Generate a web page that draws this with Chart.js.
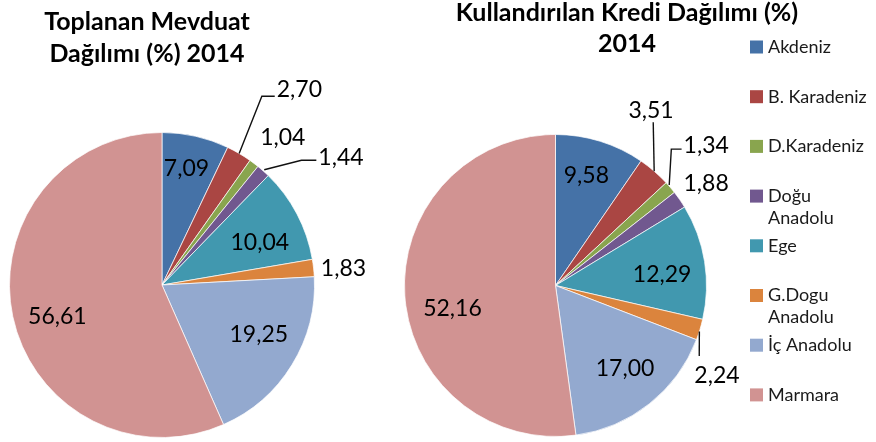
<!DOCTYPE html>
<html>
<head>
<meta charset="utf-8">
<script src="https://cdn.jsdelivr.net/npm/chart.js@4/dist/chart.umd.min.js"></script>
<style>
  html, body { margin: 0; padding: 0; background: #fff; }
  #wrap { position: relative; width: 876px; height: 442px; overflow: hidden; }
  #mevduat { position: absolute; left: 0; top: 0; }
  #kredi { position: absolute; left: 400px; top: 0; }
</style>
</head>
<body>
<div id="wrap">
  <canvas id="mevduat" width="400" height="442"></canvas>
  <canvas id="kredi" width="476" height="442"></canvas>
</div>
<script>
// Regions (legend entries; arrays are wrapped onto two lines)
const regions = ['Akdeniz', 'B. Karadeniz', 'D.Karadeniz', ['Doğu', 'Anadolu'], 'Ege', ['G.Dogu', 'Anadolu'], 'İç Anadolu', 'Marmara'];

// Share of deposits by region, 2014 (%)
const depositShare = [7.09, 2.70, 1.04, 1.44, 10.04, 1.83, 19.25, 56.61];

// Share of credit by region, 2014 (%)
const creditShare = [9.58, 3.51, 1.34, 1.88, 12.29, 2.24, 17.00, 52.16];

const depositTitle = ['Toplanan Mevduat', 'Dağılımı (%) 2014'];
const creditTitle = ['Kullandırılan Kredi Dağılımı (%)', '2014'];

const regionColors = ['#4572A7', '#AA4643', '#89A54E', '#71588F', '#4198AF', '#DB843D', '#93A9CF', '#D19392'];

// Label placement: r = distance in radii, da = angle shift (deg) from the slice middle,
// leader = optional polyline points in the same polar terms, hook = run across to the text.
const depositLabelPlacement = [
  { r: 0.78, da: -0.9 },
  { r: 1.567, da: 4.7, leader: [[1.0, 0], [1.40, -2.5]], hook: true },
  { r: 1.25, da: 2.2 },
  { r: 1.44, da: 13, leader: [[1.01, 0], [1.227, 6.6]], hook: true },
  { r: 0.70, da: 4.1 },
  { r: 1.195, da: 1.1 },
  { r: 0.714, da: -4.3 },
  { r: 0.717, da: -5 }
];
const creditLabelPlacement = [
  { r: 0.754, da: -1.5 },
  { r: 1.317, da: -12.1, leader: [[1.0, 0], [1.26, -9.9]] },
  { r: 1.364, da: -2.5, leader: [[1.005, -1], [1.185, -9.2]], hook: true },
  { r: 1.203, da: 0.7 },
  { r: 0.71, da: 3.3 },
  { r: 1.226, da: 12.3, leader: [[1.0, 0.7], [1.06, 9.1]] },
  { r: 0.72, da: -1.4 },
  { r: 0.70, da: -9 }
];

const LABEL_FONT = '23px Lato, "Open Sans", sans-serif';
const TITLE_FONT = 'bold 25px Lato, "Open Sans", sans-serif';
const LEGEND_FONT = '18px Lato, "Open Sans", sans-serif';

// Value labels with optional leader lines, drawn on top of the slices
function sliceLabels(placement) {
  return {
    id: 'sliceLabels',
    afterDatasetsDraw(chart) {
      const ctx = chart.ctx;
      const arcs = chart.getDatasetMeta(0).data;
      const values = chart.data.datasets[0].data;
      ctx.save();
      ctx.font = LABEL_FONT;
      ctx.fillStyle = '#000';
      ctx.strokeStyle = '#111';
      ctx.lineWidth = 1.4;
      ctx.textAlign = 'center';
      ctx.textBaseline = 'middle';
      arcs.forEach((arc, i) => {
        const p = placement[i];
        const mid = (arc.startAngle + arc.endAngle) / 2;
        const R = arc.outerRadius;
        const at = (rf, da) => {
          const a = mid + da * Math.PI / 180;
          return [arc.x + rf * R * Math.cos(a), arc.y + rf * R * Math.sin(a)];
        };
        const [tx, ty] = at(p.r, p.da);
        const text = values[i].toFixed(2).replace('.', ',');
        const w = ctx.measureText(text).width;
        if (p.leader) {
          ctx.beginPath();
          p.leader.forEach(([rf, da], k) => {
            const [x, y] = at(rf, da);
            if (k) ctx.lineTo(x, y); else ctx.moveTo(x, y);
          });
          if (p.hook) {
            const last = p.leader[p.leader.length - 1];
            const [, ly] = at(last[0], last[1]);
            ctx.lineTo(tx - w / 2 - 2, ly);
          }
          ctx.stroke();
        }
        ctx.fillText(text, tx, ty);
      });
      ctx.restore();
    }
  };
}

// Centered multi-line heading
function panelTitle(lines, cx, top, gap) {
  return {
    id: 'panelTitle',
    afterDraw(chart) {
      const ctx = chart.ctx;
      ctx.save();
      ctx.font = TITLE_FONT;
      ctx.fillStyle = '#000';
      ctx.textAlign = 'center';
      ctx.textBaseline = 'middle';
      lines.forEach((t, k) => ctx.fillText(t, cx, top + k * gap));
      ctx.restore();
    }
  };
}

// Legend column with evenly spaced entries, long names on two lines
function regionLegend(x, top, step) {
  return {
    id: 'regionLegend',
    afterDraw(chart) {
      const ctx = chart.ctx;
      const labels = chart.data.labels;
      const colors = chart.data.datasets[0].backgroundColor;
      ctx.save();
      ctx.font = LEGEND_FONT;
      ctx.textAlign = 'left';
      ctx.textBaseline = 'middle';
      labels.forEach((lab, i) => {
        const y = top + i * step;
        ctx.fillStyle = colors[i];
        ctx.fillRect(x, y - 6.5, 13, 13);
        ctx.fillStyle = '#1a1a1a';
        const lines = Array.isArray(lab) ? lab : [lab];
        lines.forEach((t, k) => ctx.fillText(t, x + 18, y + k * 22));
      });
      ctx.restore();
    }
  };
}

function pieConfig(values, padding, plugins) {
  return {
    type: 'pie',
    data: {
      labels: regions,
      datasets: [{
        data: values,
        backgroundColor: regionColors,
        borderColor: 'rgba(255,255,255,0.7)',
        borderWidth: 1
      }]
    },
    options: {
      responsive: false,
      animation: false,
      events: [],
      layout: { padding },
      plugins: { legend: { display: false }, tooltip: { enabled: false }, title: { display: false } }
    },
    plugins
  };
}

new Chart(document.getElementById('mevduat'), pieConfig(
  depositShare,
  { left: 9, right: 85, top: 132, bottom: 4 },
  [sliceLabels(depositLabelPlacement), panelTitle(depositTitle, 147, 22, 32)]
));

new Chart(document.getElementById('kredi'), pieConfig(
  creditShare,
  { left: 4, right: 169, top: 134, bottom: 5 },
  [sliceLabels(creditLabelPlacement), panelTitle(creditTitle, 227, 13, 31), regionLegend(350, 47, 49.7)]
));
</script>
</body>
</html>
